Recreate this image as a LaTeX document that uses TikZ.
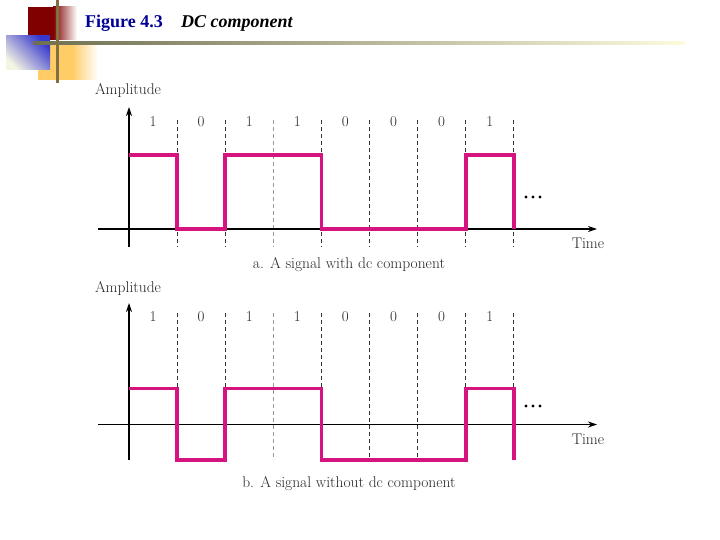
\documentclass[tikz,border=0pt]{standalone}
\usepackage{fontspec}
\newfontfamily\titlefont{Liberation Serif}
\usetikzlibrary{arrows.meta}
\definecolor{sig}{RGB}{214,20,127}
\definecolor{navytitle}{RGB}{0,0,150}
\definecolor{decored}{RGB}{128,0,0}
\definecolor{decoyellow}{RGB}{255,204,102}
\definecolor{decoblue}{RGB}{55,55,205}
\definecolor{decocream}{RGB}{245,245,228}
\definecolor{decoline}{RGB}{110,110,80}
\definecolor{decopale}{RGB}{252,252,220}
\definecolor{decovline}{RGB}{128,112,64}
\tikzset{
  axisline/.style={line width=1.2pt, black, -{Stealth[length=9pt,width=6pt]}},
  gridline/.style={line width=0.7pt, black!80, dash pattern=on 4pt off 3pt},
  gridlight/.style={line width=0.7pt, black!40, dash pattern=on 4pt off 3pt},
  signal/.style={line width=3.6pt, sig, line join=miter, line cap=butt},
  figtext/.style={font=\fontsize{15.5}{18}\selectfont, text=black!85, inner sep=0pt},
  bitlabel/.style={font=\fontsize{15}{17}\selectfont, text=black!85, inner sep=0pt},
}
\begin{document}
\begin{tikzpicture}[x=1pt,y=-1pt]
\useasboundingbox (0,0) rectangle (720,540);
% decoration
\fill[decored] (28,7) rectangle (53,40);
\shade[left color=decored, right color=white] (53,7) rectangle (77,40);
\fill[decoyellow] (38,42) rectangle (72,80);
\shade[left color=decoyellow, right color=white] (72,42) rectangle (98,80);
\shade[top color=decoblue, bottom color=decocream, shading angle=-45] (6,36) rectangle (50,70);
\shade[left color=decoline, right color=decopale] (33,41.5) rectangle (685,44.5);
\fill[decovline] (56,0) rectangle (58.5,83);
% title
\node[anchor=base west, inner sep=0pt, font=\titlefont\bfseries\fontsize{18}{21}\selectfont, text=navytitle] (fig) at (85,27.5) {Figure 4.3};
\node[anchor=base west, inner sep=0pt, font=\titlefont\bfseries\itshape\fontsize{18}{21}\selectfont, text=black] (figname) at (181,27.5) {DC component};

% ---------- plot a ----------
\foreach \k/\st in {1/gridline,2/gridline,3/gridlight,4/gridline,5/gridline,6/gridline,7/gridline,8/gridline}{
  \draw[\st] ({129+48.1*\k},120) -- ({129+48.1*\k},247);
}
\foreach \b [count=\i from 0] in {1,0,1,1,0,0,0,1}{
  \node[bitlabel] (abit\i) at ({153+48.1*\i},122) {\b};
}
\coordinate (aorigin) at (98,229);
\coordinate (aend) at (597,229);
\coordinate (aybot) at (129,247);
\coordinate (aytop) at (129,107);
\draw[axisline] (aorigin) -- (aend);
\draw[axisline] (aybot) -- (aytop);
\draw[signal] (129,155) -- (177.1,155) -- (177.1,229) -- (225.2,229) -- (225.2,155) -- (321.4,155) -- (321.4,229) -- (465.7,229) -- (465.7,155) -- (513.8,155) -- (513.8,229);
\foreach \dx in {526,533,540} \fill[black] (\dx,197) circle (1.7);
\node[figtext] (aamp) at (128,91) {Amplitude};
\node[figtext] (atime) at (588,243) {Time};
\node[figtext] (acap) at (349,264.5) {a. A signal with dc component};

% ---------- plot b ----------
\foreach \k/\st in {1/gridline,2/gridline,3/gridlight,4/gridline,5/gridline,6/gridline,7/gridline,8/gridline}{
  \draw[\st] ({129+48.1*\k},313) -- ({129+48.1*\k},460);
}
\foreach \b [count=\i from 0] in {1,0,1,1,0,0,0,1}{
  \node[bitlabel] (bbit\i) at ({153+48.1*\i},317) {\b};
}
\coordinate (borigin) at (98,424.5);
\coordinate (bend) at (597,424.5);
\coordinate (bybot) at (129,460);
\coordinate (bytop) at (129,303);
\draw[axisline] (borigin) -- (bend);
\draw[axisline] (bybot) -- (bytop);
\draw[signal] (129,388.5) -- (177.1,388.5) -- (177.1,460) -- (225.2,460) -- (225.2,388.5) -- (321.4,388.5) -- (321.4,460) -- (465.7,460) -- (465.7,388.5) -- (513.8,388.5) -- (513.8,460);
\foreach \dx in {526,533,540} \fill[black] (\dx,406) circle (1.7);
\node[figtext] (bamp) at (128,289) {Amplitude};
\node[figtext] (btime) at (588,439) {Time};
\node[figtext] (bcap) at (349,483.5) {b. A signal without dc component};
\end{tikzpicture}
\end{document}
